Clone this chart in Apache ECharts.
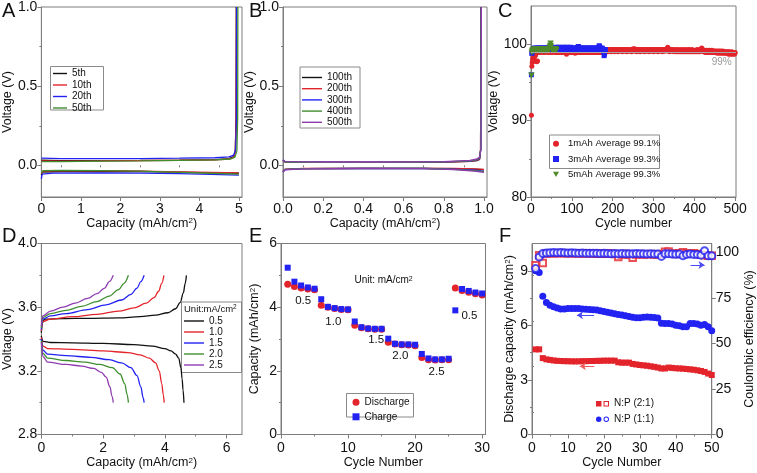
<!DOCTYPE html>
<html><head><meta charset="utf-8">
<script src="https://cdn.jsdelivr.net/npm/echarts@6/dist/echarts.min.js"></script>
<style>html,body{margin:0;padding:0;background:#fff}#c{width:757px;height:473px}</style>
</head><body><div id="c"></div>
<script>
// ---------- Panel A ----------
const aNames = ['5th','10th','20th','50th'];
const a5Plate = [[0,-0.062],[0.03,-0.042],[0.5,-0.039],[1.5,-0.038],[2.5,-0.039],[3.5,-0.043],[4.3,-0.047],[5,-0.05]];
const a5Strip = [[0,0.032],[0.5,0.03],[1.5,0.03],[2.5,0.031],[3.5,0.033],[4.4,0.036],[4.75,0.042],[4.87,0.055],[4.91,0.09],[4.93,0.3],[4.935,1.0]];
const a10Plate = [[0,-0.055],[0.04,-0.037],[0.5,-0.035],[1.5,-0.034],[2.5,-0.036],[3.5,-0.041],[4.3,-0.045],[5,-0.048]];
const a10Strip = [[0,0.028],[0.5,0.027],[1.5,0.028],[2.5,0.03],[3.5,0.032],[4.4,0.035],[4.75,0.04],[4.87,0.05],[4.91,0.08],[4.93,0.3],[4.94,1.0]];
const a20Plate = [[0,-0.085],[0.02,-0.055],[0.3,-0.049],[1.5,-0.047],[2.5,-0.049],[3.5,-0.053],[4.3,-0.057],[5,-0.062]];
const a20Strip = [[0,0.046],[0.5,0.043],[1.5,0.042],[2.5,0.043],[3.5,0.045],[4.4,0.048],[4.75,0.054],[4.87,0.065],[4.92,0.1],[4.94,0.3],[4.945,1.0]];
const a50Plate = [[0,-0.05],[0.04,-0.034],[0.5,-0.032],[1.5,-0.033],[2.5,-0.037],[3.5,-0.044],[4.3,-0.05],[5,-0.055]];
const a50Strip = [[0,0.024],[0.5,0.024],[1.5,0.026],[2.5,0.028],[3.5,0.031],[4.4,0.034],[4.8,0.04],[4.9,0.052],[4.95,0.09],[4.97,0.3],[4.975,1.0]];
// ---------- Panel B ----------
const bNames = ['100th','200th','300th','400th','500th'];
const b100Plate = [[0,-0.04],[0.01,-0.026],[0.1,-0.021],[0.4,-0.019],[0.7,-0.019],[0.85,-0.021],[0.95,-0.024],[1.0,-0.027]];
const b100Strip = [[0,0.032],[0.01,0.022],[0.2,0.02],[0.5,0.019],[0.8,0.021],[0.93,0.025],[0.965,0.03],[0.978,0.038],[0.983,0.1],[0.985,1.0]];
const b200Plate = [[0,-0.038],[0.01,-0.025],[0.1,-0.02],[0.4,-0.019],[0.7,-0.019],[0.85,-0.02],[0.95,-0.023],[1.0,-0.025]];
const b200Strip = [[0,0.031],[0.01,0.021],[0.2,0.019],[0.5,0.019],[0.8,0.021],[0.93,0.025],[0.965,0.031],[0.978,0.04],[0.983,0.1],[0.985,1.0]];
const b300Plate = [[0,-0.042],[0.01,-0.027],[0.1,-0.021],[0.4,-0.019],[0.7,-0.02],[0.85,-0.024],[0.95,-0.03],[1.0,-0.037]];
const b300Strip = [[0,0.033],[0.01,0.022],[0.2,0.02],[0.5,0.02],[0.8,0.022],[0.93,0.027],[0.965,0.034],[0.978,0.044],[0.984,0.1],[0.986,1.0]];
const b400Plate = [[0,-0.04],[0.01,-0.026],[0.1,-0.021],[0.4,-0.019],[0.7,-0.02],[0.85,-0.025],[0.95,-0.033],[1.0,-0.04]];
const b400Strip = [[0,0.031],[0.01,0.021],[0.2,0.019],[0.5,0.019],[0.8,0.022],[0.93,0.028],[0.965,0.036],[0.978,0.046],[0.984,0.1],[0.986,1.0]];
const b500Plate = [[0,-0.043],[0.01,-0.028],[0.1,-0.022],[0.4,-0.02],[0.7,-0.021],[0.85,-0.027],[0.95,-0.036],[1.0,-0.045]];
const b500Strip = [[0,0.034],[0.01,0.023],[0.2,0.021],[0.5,0.021],[0.8,0.024],[0.93,0.031],[0.965,0.04],[0.978,0.052],[0.985,0.1],[0.987,1.0]];
// ---------- Panel C (coulombic efficiency per cycle, cycle = index+1) ----------
const cNames = ['1mAh Average 99.1%','3mAh Average 99.3%','5mAh Average 99.3%'];
const c1mAh = [
90.7,97.1,97.6,98.0,98.3,97.9,98.2,98.4,97.8,98.5,98.6,98.8,97.8,97.7,98.9,97.8,98.9,99.0,98.9,99.1,99.0,99.1,98.9,99.2,99.0,
99.1,99.0,99.2,98.9,99.1,99.0,99.2,99.1,98.9,99.0,99.2,99.1,99.0,99.1,99.2,99.0,98.9,99.1,99.2,99.0,99.1,98.9,99.0,99.2,99.1,
99.0,99.1,98.9,99.2,99.0,99.1,99.0,99.2,99.1,98.9,99.0,99.1,98.9,99.0,99.1,98.9,99.0,98.9,99.1,99.0,98.9,99.0,99.1,98.9,99.0,
98.9,99.0,99.1,98.9,99.0,98.9,99.0,99.1,98.9,99.0,98.9,98.7,99.0,98.9,99.0,99.1,98.9,99.0,98.9,99.0,99.1,98.9,99.0,98.9,99.0,
98.9,99.0,99.1,98.9,99.0,98.9,99.0,98.8,98.9,99.0,99.1,98.9,99.0,98.9,99.0,99.1,98.9,99.0,98.9,99.0,98.9,99.0,99.1,98.9,99.0,
98.9,99.0,99.1,98.9,99.0,98.9,99.0,99.1,98.9,99.0,98.9,99.0,99.1,98.9,99.0,98.9,99.0,99.1,98.9,99.0,98.9,99.0,99.1,98.9,99.0,
98.9,99.0,99.1,98.9,99.0,98.9,99.0,99.1,98.9,99.0,98.9,99.0,99.1,98.9,99.0,98.9,99.0,99.1,98.9,99.0,98.9,99.0,99.1,98.9,99.0,
99.1,99.2,99.0,99.3,99.1,99.2,99.0,99.3,99.2,99.1,99.3,99.2,99.0,99.2,99.3,99.1,99.2,99.3,99.1,99.2,99.0,99.3,99.2,99.1,99.3,
99.2,99.1,99.3,99.2,99.0,99.2,99.3,99.1,99.2,99.3,99.1,99.2,99.0,99.3,99.2,99.1,99.3,99.2,99.1,99.2,99.3,99.1,99.2,99.0,99.3,
99.2,99.1,99.3,99.2,99.1,99.2,99.3,99.1,99.2,99.0,99.3,99.2,99.1,99.3,99.2,99.1,99.2,99.3,99.1,99.2,99.0,99.3,99.2,99.1,99.4,
99.2,99.1,99.3,99.4,99.2,99.1,99.3,99.2,99.0,99.2,99.3,99.1,99.2,99.3,99.1,99.2,99.0,99.3,99.2,99.1,99.3,99.2,99.1,99.2,99.3,
99.1,99.2,99.0,99.3,99.2,99.1,99.3,99.2,99.1,99.2,99.3,99.1,99.2,99.0,99.3,99.2,99.1,99.3,99.2,99.1,99.2,99.3,99.1,99.2,99.0,
99.3,99.2,99.1,99.3,99.2,99.1,99.2,99.3,99.1,99.2,99.0,99.3,99.2,99.1,99.3,99.2,99.1,99.2,99.3,99.1,99.2,99.0,99.3,99.2,99.1,
99.3,99.2,99.1,99.2,99.3,99.1,99.2,99.4,99.5,99.6,99.3,99.1,99.2,99.0,99.3,99.2,99.1,99.3,99.2,99.1,99.2,99.3,99.1,99.2,99.0,
99.2,99.1,99.3,99.2,99.0,99.1,99.2,99.0,99.3,99.1,99.2,99.0,99.1,99.2,99.0,99.3,99.1,99.2,99.0,99.1,99.2,99.0,99.3,99.1,99.2,
99.0,99.1,99.2,99.0,99.3,99.1,99.2,99.0,99.1,99.2,99.0,99.3,99.1,99.2,99.0,99.1,99.2,99.0,99.3,99.1,99.2,99.0,99.1,99.2,99.0,
99.1,99.2,99.0,99.1,99.2,99.0,99.3,99.1,99.2,99.0,99.1,99.2,99.0,99.3,99.1,99.2,99.4,99.5,99.4,99.3,99.1,99.0,99.2,99.1,99.0,
99.1,98.9,99.0,99.1,99.2,98.9,99.0,99.1,98.9,99.0,99.2,99.1,98.9,99.0,99.1,98.9,99.0,99.2,99.1,98.9,99.0,99.1,98.9,99.0,99.1,
98.9,99.0,99.1,98.9,99.0,98.8,99.1,99.0,98.9,99.0,99.1,98.8,99.0,98.9,99.1,99.0,98.8,98.9,99.0,99.1,98.8,99.0,98.9,99.0,98.8,
98.9,99.0,98.8,98.9,99.0,98.8,98.9,99.0,98.7,98.9,98.8,99.0,98.9,98.7,98.8,98.9,99.0,98.8,98.7,98.9,98.8,98.9,98.7,98.8,98.9];
const c3mAh = [
96.0,98.8,99.0,99.2,99.3,99.4,99.3,99.5,99.4,99.3,99.4,99.5,99.3,99.4,99.2,99.4,99.5,99.3,99.4,99.5,99.3,99.4,99.5,99.4,99.3,99.4,
99.5,99.3,99.4,99.5,99.4,99.3,99.4,99.5,99.3,99.4,99.5,99.4,99.3,99.5,99.4,99.3,99.4,99.5,99.4,99.3,99.5,99.4,99.3,99.4,99.5,99.4,
99.3,99.4,99.5,99.3,99.4,99.5,99.4,99.3,99.4,99.5,99.6,99.4,99.3,99.5,99.4,99.6,99.3,99.4,99.5,99.4,99.3,99.5,99.4,99.6,99.4,99.3,
99.5,99.4,99.3,99.4,99.6,99.5,99.3,99.4,99.5,99.4,99.6,99.3,99.4,99.5,99.4,99.3,99.5,99.4,99.6,99.4,99.3,99.5,99.4,99.3,99.4,99.5,
99.4,99.3,99.5,99.4,99.3,99.4,99.5,99.3,99.4,99.5,99.6,99.7,99.6,99.4,99.3,99.5,99.4,99.3,99.4,99.5,99.3,99.4,99.5,99.4,99.3,99.4,
99.5,99.3,99.4,99.5,99.4,99.3,99.4,99.5,99.3,99.4,99.5,99.4,99.3,99.5,99.4,99.3,99.4,99.5,99.4,99.3,99.5,99.4,99.3,99.4,99.5,99.4,
99.3,99.4,99.5,99.3,99.4,99.5,99.4,99.3,99.5,99.6,99.8,99.7,99.5,99.4,99.3,99.4,99.3,99.5,99.4,99.3,99.2,99.0,98.5,98.7,99.2,99.3];
const c5mAh = [
95.9,98.9,99.1,99.2,99.3,99.2,99.1,99.3,99.2,99.4,99.2,99.3,99.1,99.2,99.3,99.2,99.4,99.2,99.3,99.1,99.2,99.3,99.2,99.1,99.3,99.2,99.4,99.2,99.3,99.2,99.1,
99.3,99.2,99.4,99.2,99.3,99.1,99.2,99.3,99.2,99.4,99.3,99.2,99.3,99.4,99.6,99.8,100.1,99.7,99.4,99.3,99.2,99.4,99.3,99.2,99.3,99.4,99.3,99.2,99.4,99.3,99.2];
const cRefLine = 99;
const cRefLabelPos = [467, 97.6];
// ---------- Panel D ----------
const dNames = ['0.5','1.0','1.5','2.0','2.5'];
const d05Chg = [[0,3.44],[0.03,3.5],[0.1,3.525],[0.7,3.528],[1.5,3.53],[2.5,3.533],[3.2,3.54],[3.7,3.55],[4.1,3.565],[4.35,3.59],[4.5,3.63],[4.6,3.69],[4.66,3.75],[4.7,3.8]];
const d10Chg = [[0,3.45],[0.04,3.51],[0.3,3.525],[1,3.54],[1.8,3.555],[2.5,3.575],[3.0,3.595],[3.4,3.625],[3.65,3.66],[3.8,3.7],[3.9,3.75],[3.97,3.8]];
const d15Chg = [[0,3.46],[0.04,3.525],[0.3,3.545],[0.8,3.56],[1.5,3.585],[2.1,3.615],[2.6,3.645],[2.9,3.68],[3.1,3.72],[3.22,3.76],[3.33,3.8]];
const d20Chg = [[0,3.47],[0.04,3.535],[0.3,3.56],[0.8,3.58],[1.3,3.605],[1.8,3.635],[2.2,3.67],[2.5,3.71],[2.68,3.75],[2.82,3.8]];
const d25Chg = [[0,3.48],[0.04,3.545],[0.3,3.575],[0.7,3.6],[1.1,3.625],[1.5,3.655],[1.8,3.685],[2.05,3.72],[2.2,3.76],[2.33,3.8]];
const d05Dis = [[0,3.42],[0.05,3.385],[0.3,3.378],[1,3.376],[2,3.372],[3,3.365],[3.6,3.355],[4.0,3.34],[4.2,3.325],[4.35,3.305],[4.45,3.28],[4.52,3.22],[4.56,3.15],[4.59,3.08],[4.62,3.0]];
const d10Dis = [[0,3.41],[0.05,3.355],[0.2,3.34],[1,3.335],[2,3.325],[2.8,3.315],[3.2,3.3],[3.5,3.28],[3.7,3.25],[3.82,3.2],[3.9,3.12],[3.95,3.05],[3.98,3.0]];
const d15Dis = [[0,3.40],[0.05,3.33],[0.2,3.305],[0.8,3.295],[1.6,3.285],[2.2,3.27],[2.6,3.25],[2.9,3.22],[3.1,3.17],[3.22,3.1],[3.3,3.03],[3.33,3.0]];
const d20Dis = [[0,3.39],[0.05,3.31],[0.2,3.28],[0.8,3.265],[1.4,3.255],[1.9,3.24],[2.3,3.22],[2.55,3.18],[2.7,3.12],[2.78,3.05],[2.82,3.0]];
const d25Dis = [[0,3.38],[0.05,3.29],[0.2,3.255],[0.8,3.24],[1.3,3.23],[1.7,3.215],[1.95,3.19],[2.1,3.16],[2.22,3.1],[2.29,3.04],[2.33,3.0]];
// ---------- Panel E (cycle = index+1) ----------
const eDischarge = [4.72,4.65,4.6,4.57,4.55,4.06,4.0,3.96,3.93,3.92,3.43,3.35,3.32,3.31,3.31,2.9,2.84,2.82,2.81,2.79,2.42,2.35,2.34,2.35,2.35,4.6,4.52,4.47,4.42,4.38];
const eCharge = [5.24,4.8,4.68,4.62,4.58,4.25,4.01,3.97,3.94,3.93,3.55,3.37,3.33,3.32,3.32,3.01,2.85,2.83,2.83,2.82,2.53,2.39,2.36,2.36,2.38,3.9,4.57,4.51,4.46,4.43];
const eRateText = ['0.5','1.0','1.5','2.0','2.5','0.5'];
const eRateX = [3.3,7.8,14.2,17.8,23.2,28.1];
const eRateY = [4.21,3.55,2.96,2.46,1.98,3.74];
const eUnitPos = [15.3,4.85];
// ---------- Panel F (cycle = index+1) ----------
const fCap21 = [4.68,4.68,4.2,4.13,4.1,4.07,4.05,4.04,4.03,4.03,4.02,4.02,4.02,4.03,4.03,4.04,4.04,4.05,4.05,4.06,4.06,4.06,4.06,3.97,3.95,3.95,3.95,3.88,3.85,3.82,3.8,3.78,3.75,3.72,3.68,3.63,3.63,3.68,3.66,3.64,3.63,3.62,3.6,3.58,3.56,3.53,3.49,3.44,3.35,3.27];
const fCap11 = [9.0,8.9,7.6,7.25,7.1,7.02,6.95,6.9,6.9,6.92,6.93,6.93,6.92,6.9,6.88,6.87,6.86,6.84,6.8,6.76,6.72,6.68,6.64,6.6,6.57,6.53,6.49,6.44,6.42,6.42,6.44,6.46,6.45,6.43,6.4,6.12,6.1,6.1,6.07,6.0,5.98,5.92,5.92,6.1,6.1,6.08,6.0,6.05,5.93,5.7];
const fCE21 = [93.0,98.5,94.3,99.5,99.6,99.7,99.7,99.8,99.7,99.6,99.7,99.6,99.5,99.6,99.5,99.6,99.5,99.4,99.5,99.4,99.5,99.3,99.2,97.6,99.0,99.3,98.8,97.2,99.0,99.2,99.0,99.1,99.2,99.0,99.1,99.2,100.4,100.6,99.5,99.2,99.6,100.2,99.5,99.4,99.7,99.2,98.8,98.6,98.3,98.3];
const fCE11 = [91.2,97.6,99.5,99.8,99.9,100,99.9,100,99.9,99.8,99.9,99.8,99.7,99.8,99.7,99.6,99.7,99.6,99.5,99.6,99.5,99.4,99.5,99.4,99.5,99.3,99.4,99.3,99.5,99.4,99.3,99.2,99.3,99.2,99.2,97.9,99.3,99.4,99.2,99.1,99.2,98.2,99.0,99.2,99.0,98.9,98.6,101.0,98.2,98.2];
const fArrowBlueCap = [17.3,12.5,6.56];
const fArrowRedCap = [17.3,13.3,3.75];
const fArrowBlueCE = [44.1,48.0,93.2];

// ---------- styles ----------
const FONT = '"Liberation Sans", Arial, Helvetica, sans-serif';
const AXC = '#7d7d7d';
const TXT = '#111111';
const K='#111111', R='#e3242b', B='#2222f2', G='#3f8f2f', P='#8e3cb0';
const CG = '#4f8a2b';
const TRI_DOWN = 'path://M0,0L10,0L5,8.7Z';

const grids = [
  {left:39, top:6, width:203, height:191},
  {left:283, top:6, width:204, height:191},
  {left:531, top:6, width:205, height:191},
  {left:39, top:243.5, width:203, height:191},
  {left:281, top:243.5, width:204.5, height:191},
  {left:532, top:243.5, width:192.5, height:191}
].map(g => Object.assign({show:true, borderColor:AXC, borderWidth:1, backgroundColor:'transparent'}, g));

const f1 = v => v.toFixed(1);
const f0 = v => String(Math.round(v));
const nameStyle = {color:TXT, fontSize:12.5, fontFamily:FONT,
  rich:{s:{fontSize:8, fontFamily:FONT, color:TXT, verticalAlign:'top'}}};

function axMain(gi, min, max, majors, fmt, name, gap, margin, extra) {
  return Object.assign({type:'value', gridIndex:gi, min:min, max:max,
    axisLine:{show:true, onZero:false, lineStyle:{color:AXC, width:1}},
    axisTick:{show:true, inside:false, length:4, customValues:majors, lineStyle:{color:AXC, width:1}},
    axisLabel:{show:true, customValues:majors, formatter:fmt, color:TXT, fontSize:14, fontFamily:FONT, margin:margin},
    splitLine:{show:false}, minorTick:{show:false}, axisPointer:{show:false},
    name:name, nameLocation:'middle', nameGap:gap, nameTextStyle:nameStyle}, extra || {});
}
function axMinor(gi, min, max, minors, extra) {
  return Object.assign({type:'value', gridIndex:gi, min:min, max:max,
    axisLine:{show:false}, axisLabel:{show:false}, splitLine:{show:false}, axisPointer:{show:false},
    axisTick:{show:true, inside:false, length:2, customValues:minors, lineStyle:{color:AXC, width:1}}}, extra || {});
}
const CAP = 'Capacity (mAh/cm{s|2})';
const BOT = {position:'bottom'}, LEFT = {position:'left'}, RIGHT = {position:'right'};
const xAxis = [
  axMain(0, 0, 5.08, [0,1,2,3,4,5], f0, CAP, 19.5, 5, BOT),
  axMain(1, 0, 1.015, [0,0.2,0.4,0.6,0.8,1.0], f1, CAP, 19.5, 5, BOT),
  axMain(2, 0, 502, [0,100,200,300,400,500], f0, 'Cycle number', 19.5, 5, BOT),
  axMain(3, 0, 6.5, [0,2,4,6], f0, CAP, 22, 6.5, BOT),
  axMain(4, 0, 30.5, [0,10,20,30], f0, 'Cycle Number', 22, 6.5, BOT),
  axMain(5, 0, 50, [0,10,20,30,40,50], f0, 'Cycle Number', 22, 6.5, BOT),
  axMinor(0, 0, 5.08, [0.5,1.5,2.5,3.5,4.5], BOT),
  axMinor(1, 0, 1.015, [0.1,0.3,0.5,0.7,0.9], BOT),
  axMinor(2, 0, 502, [50,150,250,350,450], BOT),
  axMinor(3, 0, 6.5, [1,3,5], BOT),
  axMinor(4, 0, 30.5, [5,15,25], BOT),
  axMinor(5, 0, 50, [5,15,25,35,45], BOT)
];
const yAxis = [
  axMain(0, -0.2, 1.0, [0,0.5,1.0], f1, 'Voltage (V)', 23.5, 4, LEFT),
  axMain(1, -0.2, 1.0, [0,0.5,1.0], f1, 'Voltage (V)', 23, 4, LEFT),
  axMain(2, 80, 105, [80,90,100], f0, 'Voltage (V)', 21, 4, LEFT),
  axMain(3, 2.8, 4.0, [2.8,3.2,3.6,4.0], f1, 'Voltage (V)', 24, 4, LEFT),
  axMain(4, 0, 6, [0,2,4,6], f0, CAP, 19.5, 4, LEFT),
  axMain(5, 0, 10.5, [0,3,6,9], f0, 'Discharge capacity (mAh/cm{s|2})', 14.5, 4, LEFT),
  axMain(5, 0, 105, [0,25,50,75,100], f0, 'Coulombic efficiency (%)', 20, 4, RIGHT),
  axMinor(0, -0.2, 1.0, [0.25,0.75], LEFT),
  axMinor(1, -0.2, 1.0, [0.25,0.75], LEFT),
  axMinor(2, 80, 105, [85,95], LEFT),
  axMinor(3, 2.8, 4.0, [3.0,3.4,3.8], LEFT),
  axMinor(4, 0, 6, [1,3,5], LEFT),
  axMinor(5, 0, 10.5, [1.5,4.5,7.5], LEFT),
  axMinor(5, 0, 105, [12.5,37.5,62.5,87.5], RIGHT)
];

function lineS(name, data, gi, color, smooth) {
  const s = {type:'line', name:name, data:data, xAxisIndex:gi, yAxisIndex:gi,
    symbol:'none', showSymbol:false, lineStyle:{color:color, width:1.3}, itemStyle:{color:color},
    silent:true, emphasis:{disabled:true}, clip:true};
  if (smooth) { s.smooth = 0.35; s.smoothMonotone = 'x'; }
  return s;
}
const byCycle = arr => arr.map((v, i) => [i + 1, v]);
function scat(name, arr, xi, yi, symbol, size, color, extra) {
  return Object.assign({type:'scatter', name:name, data:byCycle(arr), xAxisIndex:xi, yAxisIndex:yi,
    symbol:symbol, symbolSize:size, itemStyle:{color:color, opacity:1}, silent:true,
    emphasis:{disabled:true}}, extra || {});
}

const series = [];
// A
[[a5Plate,a5Strip,K],[a10Plate,a10Strip,R],[a20Plate,a20Strip,B],[a50Plate,a50Strip,G]].forEach((c, i) => {
  series.push(lineS(aNames[i], c[0], 0, c[2]));
  series.push(lineS(aNames[i], c[1], 0, c[2]));
});
// B
[[b100Plate,b100Strip,K],[b200Plate,b200Strip,R],[b300Plate,b300Strip,B],[b400Plate,b400Strip,G],[b500Plate,b500Strip,P]].forEach((c, i) => {
  series.push(lineS(bNames[i], c[0], 1, c[2]));
  series.push(lineS(bNames[i], c[1], 1, c[2]));
});
// C
series.push(scat(cNames[0], c1mAh, 2, 2, 'circle', 5, R));
series.push(scat(cNames[1], c3mAh, 2, 2, 'rect', 5, B));
series.push(scat(cNames[2], c5mAh, 2, 2, TRI_DOWN, [6.5, 5.8], CG));
series.push({type:'line', data:[], xAxisIndex:2, yAxisIndex:2, silent:true, z:5,
  markLine:{silent:true, symbol:'none', animation:false, label:{show:false},
    lineStyle:{color:'#a8a8a8', width:1, type:'solid'}, data:[{yAxis:cRefLine}]},
  markPoint:{silent:true, symbol:'circle', symbolSize:0, animation:false,
    label:{show:true, position:'inside', formatter:'99%', color:'#9a9a9a', fontSize:10, fontFamily:FONT},
    data:[{coord:cRefLabelPos, name:'99%'}]}});
// D
[[d05Chg,d05Dis,K],[d10Chg,d10Dis,R],[d15Chg,d15Dis,B],[d20Chg,d20Dis,G],[d25Chg,d25Dis,P]].forEach((c, i) => {
  series.push(lineS(dNames[i], c[0], 3, c[2], true));
  series.push(lineS(dNames[i], c[1], 3, c[2], true));
});
// E
series.push(scat('Discharge', eDischarge, 4, 4, 'circle', 7, R));
series.push(scat('Charge', eCharge, 4, 4, 'rect', 6, B, {
  markPoint:{silent:true, symbol:'circle', symbolSize:0, animation:false,
    label:{show:true, position:'inside', formatter:'{b}', color:TXT, fontSize:11.5, fontFamily:FONT},
    data: eRateText.map((t, i) => ({name:t, coord:[eRateX[i], eRateY[i]]})).concat([
      {name:'Unit: mA/cm{s|2}', coord:eUnitPos,
       label:{fontSize:10, rich:{s:{fontSize:7, verticalAlign:'top', fontFamily:FONT, color:TXT}}}}])}
}));
// F
const arrowML = (a, color) => ({silent:true, animation:false, symbol:['none','arrow'], symbolSize:6,
  label:{show:false}, lineStyle:{color:color, width:1, type:'solid'},
  data:[[{coord:[a[0], a[2]]}, {coord:[a[1], a[2]]}]]});
series.push(scat('N:P (2:1)', fCap21, 5, 5, 'rect', 6, R, {markLine:arrowML(fArrowRedCap, '#f05a5a')}));
series.push(scat('N:P (1:1)', fCap11, 5, 5, 'circle', 7, B, {markLine:arrowML(fArrowBlueCap, '#4a4af5')}));
series.push(scat('N:P (2:1) CE', fCE21, 5, 6, 'emptyRect', 6.5, R,
  {itemStyle:{color:R, borderColor:R, borderWidth:1.2}}));
series.push(scat('N:P (1:1) CE', fCE11, 5, 6, 'emptyCircle', 7, B,
  {itemStyle:{color:B, borderColor:B, borderWidth:1.2}, markLine:arrowML(fArrowBlueCE, '#4a4af5')}));

const legText = (fs, extra) => Object.assign({color:TXT, fontSize:fs, fontFamily:FONT}, extra || {});
const lineIcon = w => 'path://M0,0h' + w + 'v1.4h-' + w + 'z';
const withIcon = (names, icon) => names.map(n => ({name:n, icon:icon}));
const ICON21 = 'path://M0,0h8v8h-8z M11,0h8v8h-8z M12.5,1.5v5h5v-5z';
const ICON11 = 'path://M4,0a4,4 0 1,1 0,8a4,4 0 1,1 0,-8z M15,0a4,4 0 1,1 0,8a4,4 0 1,1 0,-8z M15,1.4a2.6,2.6 0 1,0 0,5.2a2.6,2.6 0 1,0 0,-5.2z';
const legend = [
  {data:withIcon(aNames, lineIcon(14)), left:53, top:68.5, orient:'vertical', itemWidth:14, itemHeight:9, itemGap:1.5, padding:0, selectedMode:false, textStyle:legText(10)},
  {data:withIcon(bNames, lineIcon(20)), left:302, top:72.5, orient:'vertical', itemWidth:20, itemHeight:10, itemGap:1.2, padding:0, selectedMode:false, textStyle:legText(10)},
  {data:[{name:cNames[0], icon:'circle'},{name:cNames[1], icon:'rect'},{name:cNames[2], icon:TRI_DOWN}],
   left:553, top:138.7, orient:'vertical', itemWidth:6, itemHeight:6, itemGap:5.3, padding:0, selectedMode:false, textStyle:legText(9.5, {padding:[0,0,0,4]})},
  {data:withIcon(dNames, lineIcon(20)), left:184, top:316, orient:'vertical', itemWidth:20, itemHeight:10, itemGap:1, padding:0, selectedMode:false, textStyle:legText(10)},
  {data:['Discharge','Charge'], left:352.5, top:397.2, orient:'vertical', itemWidth:7, itemHeight:7, itemGap:4.6, padding:0, selectedMode:false, textStyle:legText(10)},
  {data:[{name:'N:P (2:1)', icon:ICON21},{name:'N:P (1:1)', icon:ICON11}], left:596, top:398.7, orient:'vertical', itemWidth:13, itemHeight:6, itemGap:5.6, padding:0, selectedMode:false, textStyle:legText(10)}
];

const box = (x, y, w, h) => ({type:'rect', silent:true, shape:{x:x, y:y, width:w, height:h},
  style:{fill:'#fff', stroke:'#8a8a8a', lineWidth:1}, z:-1, zlevel:0});
const letter = (t, x, y) => ({type:'text', silent:true, left:x, top:y,
  style:{text:t, fontSize:20, fontFamily:FONT, fill:'#111'}});
const graphic = [
  box(50.5, 66.5, 53, 43.5), box(300, 67, 60, 61), box(549.5, 135, 110, 33.5),
  box(181.5, 302, 60, 70.5), box(346.5, 393.5, 67, 23.5),
  letter('A', 2, 1), letter('B', 249, 1), letter('C', 498, 1),
  letter('D', 2, 226), letter('E', 249, 226), letter('F', 499, 226),
  {type:'text', silent:true, left:184, top:304,
   style:{text:'Unit:mA/cm{s|2}', fontSize:9.5, fontFamily:FONT, fill:TXT,
     rich:{s:{fontSize:6.5, fontFamily:FONT, fill:TXT, verticalAlign:'top'}}}}
];

const chart = echarts.init(document.getElementById('c'), null, {renderer:'canvas'});
chart.setOption({
  animation:false, backgroundColor:'#ffffff',
  textStyle:{fontFamily:FONT},
  grid:grids, xAxis:xAxis, yAxis:yAxis, series:series, legend:legend, graphic:graphic
});
</script></body></html>
